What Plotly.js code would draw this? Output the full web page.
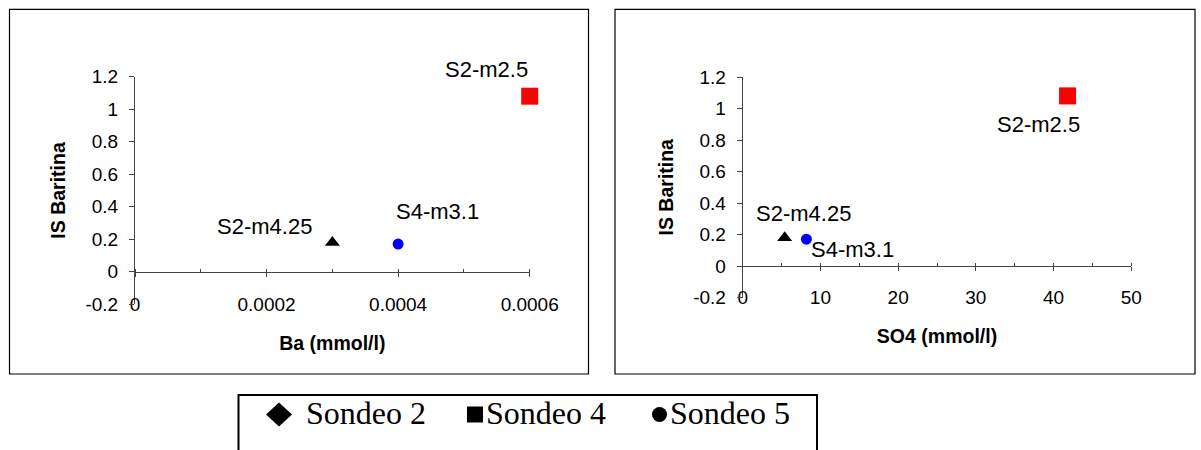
<!DOCTYPE html>
<html>
<head>
<meta charset="utf-8">
<script src="https://cdn.plot.ly/plotly-3.0.1.min.js"></script>
<style>
  html, body { margin: 0; padding: 0; background: #ffffff; }
  #chart { width: 1201px; height: 450px; }
</style>
</head>
<body>
<div id="chart"></div>
<script>
// Saturation index of barite against Ba and SO4 concentrations
const samples = ['S2-m4.25', 'S2-m2.5', 'S4-m3.1'];
const baValues = [0.0003, 0.0006, 0.0004];      // Ba (mmol/l)
const so4Values = [5.4, 41.8, 8.2];              // SO4 (mmol/l)
const isBaritina = [0.18, 1.08, 0.17];           // IS Baritina

const isTicks = [-0.2, 0, 0.2, 0.4, 0.6, 0.8, 1, 1.2];
const isTickText = ['-0.2', '0', '0.2', '0.4', '0.6', '0.8', '1', '1.2'];
const baTicks = [0, 0.0002, 0.0004, 0.0006];
const baTickText = ['0', '0.0002', '0.0004', '0.0006'];
const so4Ticks = [0, 10, 20, 30, 40, 50];
const so4TickText = ['0', '10', '20', '30', '40', '50'];
const legendLabels = ['Sondeo 2', 'Sondeo 4', 'Sondeo 5'];

// ---- page geometry (pixels -> paper fractions) ----
const W = 1201, H = 450;
const px = x => x / W;
const py = y => 1 - y / H;

const SANS = 'Liberation Sans, Arial, sans-serif';
const SERIF = 'Liberation Serif, Times New Roman, serif';
const AXIS_COLOR = '#444444';

const panels = [
  { id: '', xValues: baValues, xTicks: baTicks, xTickText: baTickText,
    xRange: [0, 0.0006], xMinor: 0.0001, title: 'Ba (mmol/l)', labelPush: 11,
    left: 135, right: 529.7, top: 76.7, bottom: 304.2, zeroY: 271.7,
    box: [9.5, 9.3, 588.5, 374],
    offsets: [[-68, 16], [-43, 27], [39, 33]] },
  { id: '2', xValues: so4Values, xTicks: so4Ticks, xTickText: so4TickText,
    xRange: [0, 50], xMinor: 5, title: 'SO4 (mmol/l)', labelPush: 10,
    left: 742.7, right: 1131.3, top: 77, bottom: 297.5, zeroY: 266,
    box: [615, 9.3, 1195, 374],
    offsets: [[19, 24], [-29, -29], [46, -10]] }
];

const markerStyle = {
  symbol: ['triangle-up', 'square', 'circle'],
  color: ['#000000', '#ff0000', '#0000ff'],
  size: [13, 17, 11],
  opacity: 1,
  line: { width: 0 }
};

const data = [];
const layout = {
  width: W, height: H,
  margin: { l: 0, r: 0, t: 0, b: 0 },
  paper_bgcolor: '#ffffff', plot_bgcolor: 'rgba(0,0,0,0)',
  showlegend: false,
  font: { family: SANS, color: '#000000', size: 19 },
  annotations: [],
  shapes: []
};

panels.forEach(p => {
  const xa = 'x' + p.id, ya = 'y' + p.id;
  const domX = [px(p.left), px(p.right)];
  const domY = [py(p.bottom), py(p.top)];

  data.push({
    type: 'scatter', mode: 'markers',
    x: p.xValues, y: isBaritina, text: samples,
    xaxis: xa, yaxis: ya,
    marker: markerStyle,
    cliponaxis: false, hoverinfo: 'text+x+y'
  });

  // horizontal axis: line crosses at IS = 0, labels pushed down to the low edge
  layout['xaxis' + p.id] = {
    domain: domX, range: p.xRange, anchor: 'free', position: py(p.zeroY),
    tickmode: 'array', tickvals: p.xTicks, ticktext: p.xTickText,
    ticks: 'outside', ticklen: 4, tickcolor: AXIS_COLOR, tickwidth: 1,
    minor: { ticks: 'inside', ticklen: 3, dtick: p.xMinor, tick0: 0, tickcolor: AXIS_COLOR, tickwidth: 1 },
    ticklabelstandoff: p.labelPush,
    showline: true, linecolor: AXIS_COLOR, linewidth: 1,
    showgrid: false, zeroline: false,
    tickfont: { family: SANS, size: 19, color: '#000000' },
    title: { text: p.title, font: { family: SANS, size: 19.5, weight: 'bold', color: '#000000' }, standoff: 22 }
  };
  // vertical axis
  layout['yaxis' + p.id] = {
    domain: domY, range: [-0.2, 1.2], anchor: xa,
    tickmode: 'array', tickvals: isTicks, ticktext: isTickText,
    ticks: 'outside', ticklen: 5, tickcolor: AXIS_COLOR, tickwidth: 1,
    ticklabelstandoff: 7,
    showline: true, linecolor: AXIS_COLOR, linewidth: 1,
    showgrid: false, zeroline: false,
    tickfont: { family: SANS, size: 19, color: '#000000' },
    title: { text: 'IS Baritina', font: { family: SANS, size: 19.5, weight: 'bold', color: '#000000' }, standoff: 14 }
  };

  // point labels
  samples.forEach((s, i) => {
    layout.annotations.push({
      xref: xa, yref: ya, x: p.xValues[i], y: isBaritina[i],
      xshift: p.offsets[i][0], yshift: p.offsets[i][1],
      text: s, showarrow: false, xanchor: 'center', yanchor: 'middle',
      font: { family: SANS, size: 22, color: '#000000' }
    });
  });

  // chart frame
  layout.shapes.push({
    type: 'rect', xref: 'paper', yref: 'paper',
    x0: px(p.box[0]), x1: px(p.box[2]), y0: py(p.box[3]), y1: py(p.box[1]),
    line: { color: '#000000', width: 1.2 }, fillcolor: 'rgba(0,0,0,0)'
  });
});

// ---- legend block below the charts ----
const legendBox = { left: 238.5, right: 817, top: 395 };
layout.shapes.push({
  type: 'path', xref: 'paper', yref: 'paper',
  path: `M ${px(legendBox.left)},${py(470)} L ${px(legendBox.left)},${py(legendBox.top)} ` +
        `L ${px(legendBox.right)},${py(legendBox.top)} L ${px(legendBox.right)},${py(470)}`,
  line: { color: '#000000', width: 2 }
});
// legend symbols: diamond, square, circle
const symY = 414.5;
layout.shapes.push({
  type: 'path', xref: 'paper', yref: 'paper',
  path: `M ${px(266)},${py(symY)} L ${px(279)},${py(symY - 12)} L ${px(292)},${py(symY)} L ${px(279)},${py(symY + 12)} Z`,
  fillcolor: '#000000', line: { width: 0 }
});
layout.shapes.push({
  type: 'rect', xref: 'paper', yref: 'paper',
  x0: px(467), x1: px(483), y0: py(symY + 8), y1: py(symY - 8),
  fillcolor: '#000000', line: { width: 0 }
});
layout.shapes.push({
  type: 'circle', xref: 'paper', yref: 'paper',
  x0: px(652), x1: px(667), y0: py(symY + 7.5), y1: py(symY - 7.5),
  fillcolor: '#000000', line: { width: 0 }
});
const legendTextX = [303.5, 483.5, 667.5];
legendLabels.forEach((t, i) => {
  layout.annotations.push({
    xref: 'paper', yref: 'paper', x: px(legendTextX[i]), y: py(413),
    text: t, showarrow: false, xanchor: 'left', yanchor: 'middle',
    font: { family: SERIF, size: 32, color: '#000000' }
  });
});

Plotly.newPlot('chart', data, layout, { displayModeBar: false, staticPlot: true });
</script>
</body>
</html>
